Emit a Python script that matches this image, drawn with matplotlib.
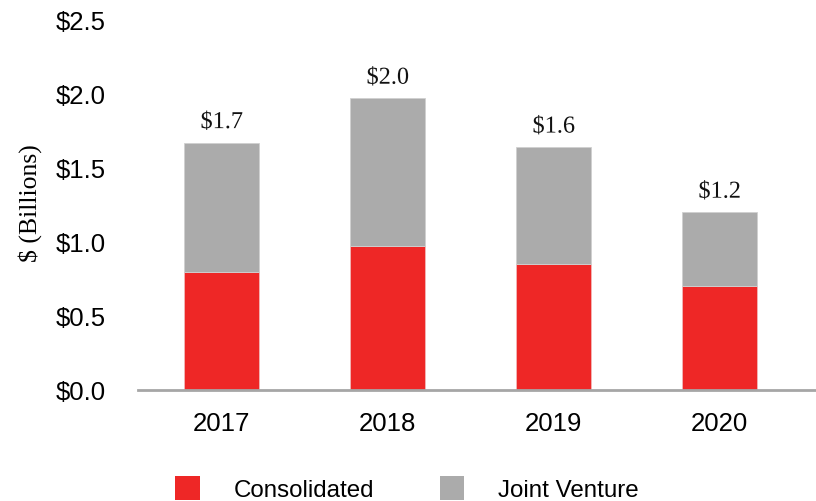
import matplotlib
matplotlib.use("Agg")
import matplotlib.pyplot as plt
import matplotlib.patheffects as pe
import numpy as np

years = ["2017", "2018", "2019", "2020"]
consolidated = [0.80, 0.97, 0.85, 0.70]
joint_venture = [0.87, 1.00, 0.79, 0.50]
y_ticks = [0.0, 0.5, 1.0, 1.5, 2.0, 2.5]

RED = "#EE2726"
GRAY = "#ABABAB"
SANS = "Liberation Sans"
SERIF = "Liberation Serif"

fig = plt.figure(figsize=(8.16, 5.01), dpi=100)
ax = fig.add_axes([138 / 816, 111 / 501, (816 - 138) / 816, 370 / 501])

x = np.arange(len(years))
width = 0.45
ax.bar(x, consolidated, width, color=RED, edgecolor="#F2B8B8", linewidth=0.6,
       label="Consolidated")
ax.bar(x, joint_venture, width, bottom=consolidated, color=GRAY,
       edgecolor="#D0D0D0", linewidth=0.6, label="Joint Venture")

totals = [c + j for c, j in zip(consolidated, joint_venture)]
for xi, t in zip(x, totals):
    ax.annotate(f"${t:.1f}", (xi, t), xytext=(0, 7), textcoords="offset points",
                ha="center", va="bottom", fontsize=17.5, family=SERIF,
                color="#111111",
                path_effects=[pe.withStroke(linewidth=3, foreground="white")])

ax.set_xlim(-0.505, 3.58)
ax.set_ylim(0, 2.5)
ax.set_yticks(y_ticks)
ax.set_yticklabels([f"${v:.1f}" for v in y_ticks], family=SANS, fontsize=18.5)
ax.set_xticks(x)
ax.set_xticklabels(years, family=SANS, fontsize=18.5)
ax.tick_params(length=0, pad=23, axis="y")
ax.tick_params(length=0, pad=16, axis="x")
for s in ["top", "right", "left"]:
    ax.spines[s].set_visible(False)
ax.spines["bottom"].set_color("#A6A6A6")
ax.spines["bottom"].set_linewidth(2)

fig.text(30 / 816, 1 - 203 / 501, "$ (Billions)", rotation=90, ha="center",
         va="center", family=SERIF, fontsize=18.5)

handles, labels = ax.get_legend_handles_labels()
leg = fig.legend(handles, labels, loc="center", bbox_to_anchor=(407 / 816, 1 - 489 / 501),
                 ncol=2, frameon=False, prop={"family": SANS, "size": 17.4},
                 handlelength=1.03, handleheight=1.15, handletextpad=1.4,
                 columnspacing=2.7)
for h in leg.legend_handles:
    h.set_edgecolor("none")

fig.savefig("out.png", dpi=100)
